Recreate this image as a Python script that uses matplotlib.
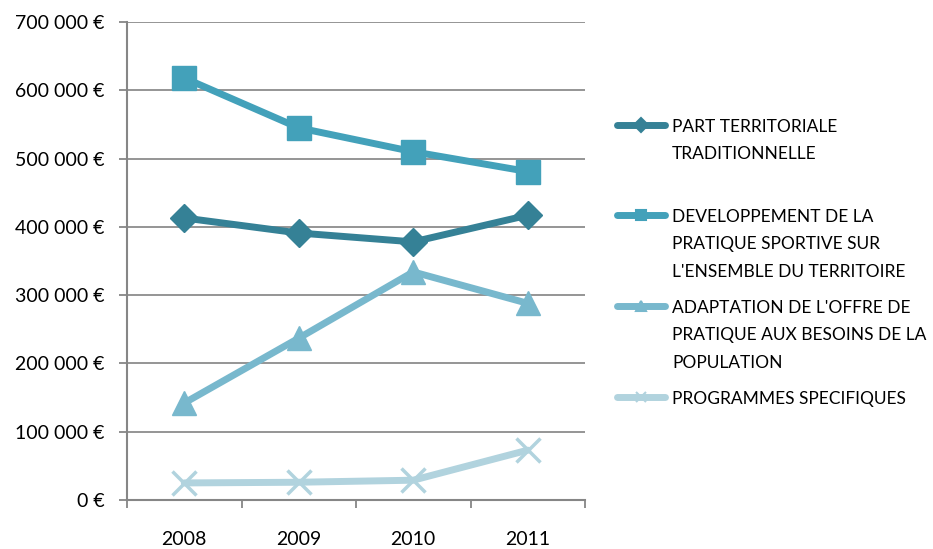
import matplotlib
matplotlib.use("Agg")
import matplotlib.pyplot as plt
from matplotlib.lines import Line2D
from matplotlib.ticker import FuncFormatter, FixedLocator

plt.rcParams['font.family'] = ['Lato', 'DejaVu Sans']

years = ["2008", "2009", "2010", "2011"]
part_territoriale = [413000, 391000, 378000, 417000]
developpement = [618000, 545000, 510000, 481000]
adaptation = [142000, 237000, 334000, 288000]
programmes = [25000, 26000, 29000, 73000]

labels = ["PART TERRITORIALE\nTRADITIONNELLE",
          "DEVELOPPEMENT DE LA\nPRATIQUE SPORTIVE SUR\nL'ENSEMBLE DU TERRITOIRE",
          "ADAPTATION DE L'OFFRE DE\nPRATIQUE AUX BESOINS DE LA\nPOPULATION",
          "PROGRAMMES SPECIFIQUES"]
colors = ["#358196", "#43A1BA", "#78B8CD", "#B1D3DE"]
markers = ["D", "s", "^", "x"]
msizes = [14, 17, 17, 17]

W, H = 933, 549
fig = plt.figure(figsize=(W / 100, H / 100), dpi=100)
ax = fig.add_axes([127 / W, (H - 500) / H, (585 - 127) / W, (500 - 22) / H])

x = list(range(len(years)))
series = [part_territoriale, developpement, adaptation, programmes]
order = [3, 2, 0, 1]
for i in order:
    ax.plot(x, series[i], color=colors[i], lw=5, marker=markers[i],
            markersize=msizes[i], markeredgewidth=2.5 if markers[i] == "x" else 1,
            markeredgecolor=colors[i], solid_capstyle="round", zorder=3 + i)

ax.set_xlim(-0.5, 3.5)
ax.set_ylim(0, 700000)
ax.set_yticks(range(0, 700001, 100000))
ax.yaxis.set_major_formatter(FuncFormatter(
    lambda v, p: (f"{int(v):,}".replace(",", " ") + " €")))
ax.grid(axis="y", color="#8C8C8C", lw=1.3)
ax.set_axisbelow(True)

ax.xaxis.set_major_locator(FixedLocator([-0.5, 0.5, 1.5, 2.5, 3.5]))
ax.xaxis.set_major_formatter(FuncFormatter(lambda v, p: ""))
ax.xaxis.set_minor_locator(FixedLocator(x))
ax.set_xticklabels(years, minor=True)
ax.tick_params(axis="x", which="minor", length=0, labelsize=14, pad=22, colors="black")
ax.tick_params(axis="x", which="major", length=6, width=1.3, color="#868686")
ax.tick_params(axis="y", length=6, width=1.3, color="#868686", labelsize=14, pad=10)

for s in ["top", "right"]:
    ax.spines[s].set_visible(False)
for s in ["left", "bottom"]:
    ax.spines[s].set_color("#868686")
    ax.spines[s].set_linewidth(1.5)

# legend drawn manually
ys = [125, 215, 306, 397]
for i, yy in enumerate(ys):
    yf = (H - yy) / H
    fig.add_artist(Line2D([617 / W, 665 / W], [yf, yf], color=colors[i], lw=5,
                          solid_capstyle="round", transform=fig.transFigure))
    fig.add_artist(Line2D([641 / W], [yf], color=colors[i], marker=markers[i],
                          markersize=7, markeredgewidth=1.5,
                          transform=fig.transFigure))
    fig.text(672 / W, yf + 6 / H, labels[i], ha="left", va="top", fontsize=12.5,
             linespacing=1.88, color="black")

fig.savefig("out.png", dpi=100)
